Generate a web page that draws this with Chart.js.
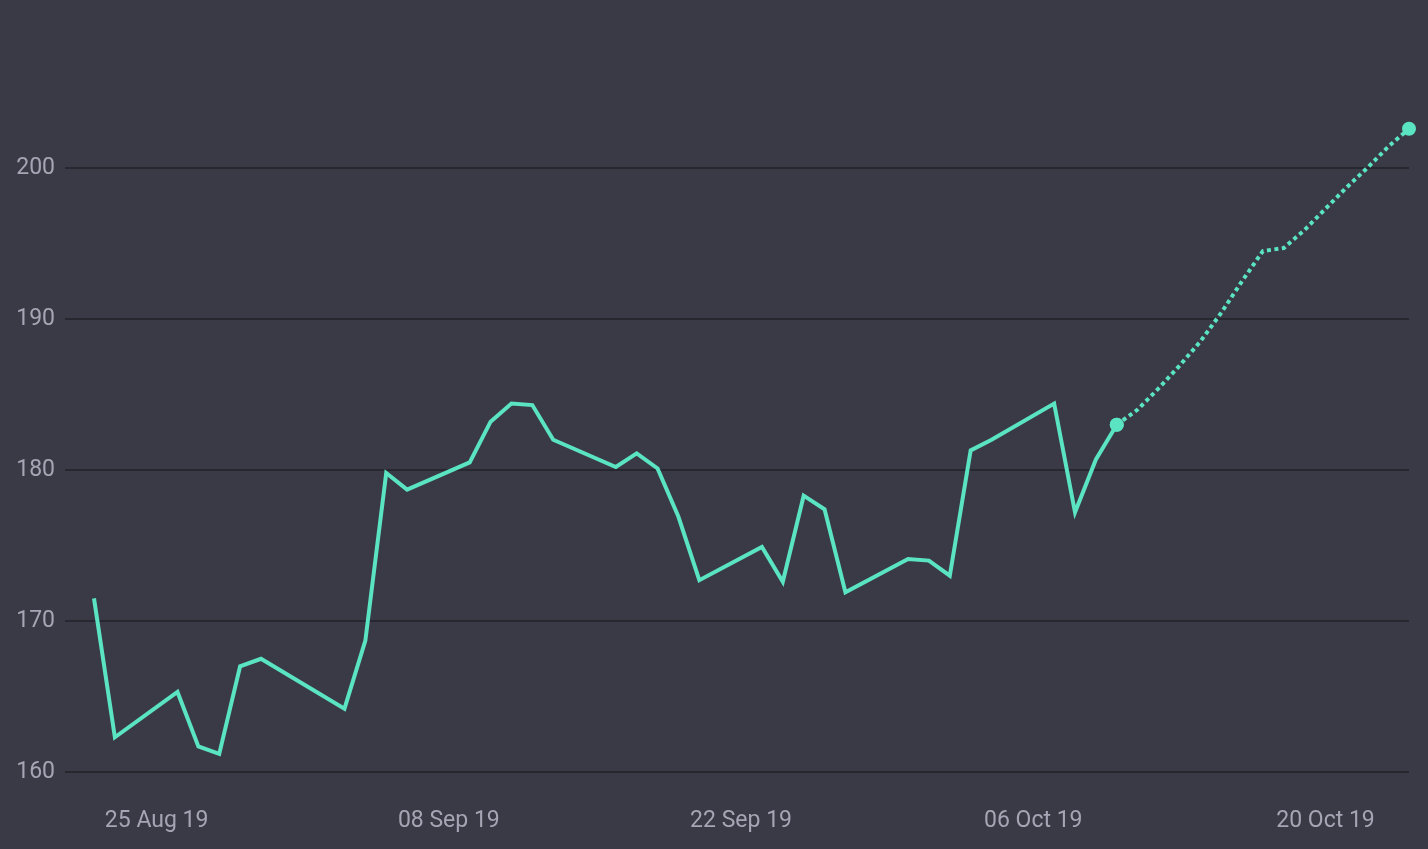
<!DOCTYPE html>
<html>
<head>
<meta charset="utf-8">
<script src="https://cdn.jsdelivr.net/npm/chart.js@4"></script>
<style>
  html, body { margin: 0; padding: 0; background: #3a3a46; overflow: hidden; }
  canvas { display: block; }
</style>
</head>
<body>
<canvas id="chart" width="1428" height="849"></canvas>
<script>
// trading days (actual) and daily forecast
const actualDates = ['2019-08-22', '2019-08-23', '2019-08-26', '2019-08-27', '2019-08-28', '2019-08-29', '2019-08-30',
  '2019-09-03', '2019-09-04', '2019-09-05', '2019-09-06', '2019-09-09', '2019-09-10', '2019-09-11', '2019-09-12', '2019-09-13',
  '2019-09-16', '2019-09-17', '2019-09-18', '2019-09-19', '2019-09-20', '2019-09-23', '2019-09-24', '2019-09-25', '2019-09-26',
  '2019-09-27', '2019-09-30', '2019-10-01', '2019-10-02', '2019-10-03', '2019-10-04', '2019-10-07', '2019-10-08', '2019-10-09',
  '2019-10-10']
const actualValues = [171.5, 162.3, 165.3, 161.7, 161.2, 167.0, 167.5,
  164.2, 168.7, 179.8, 178.7, 180.5, 183.2, 184.4, 184.3, 182.0,
  180.2, 181.1, 180.1, 176.9, 172.7, 174.9, 172.6, 178.3, 177.4,
  171.9, 174.1, 174.0, 173.0, 181.3, 182.0, 184.4, 177.2, 180.7,
  183.0]

const forecastDates = ['2019-10-10', '2019-10-11', '2019-10-12', '2019-10-13', '2019-10-14', '2019-10-15', '2019-10-16',
  '2019-10-17', '2019-10-18', '2019-10-19', '2019-10-20', '2019-10-21', '2019-10-22', '2019-10-23', '2019-10-24']
const forecastValues = [183.0, 184.0, 185.4, 186.9, 188.5, 190.4, 192.5,
  194.5, 194.7, 195.9, 197.3, 198.7, 200.0, 201.4, 202.6]

const xTickDates = ['2019-08-25', '2019-09-08', '2019-09-22', '2019-10-06', '2019-10-20']
const yTickValues = [160, 170, 180, 190, 200]

const months = ['Jan', 'Feb', 'Mar', 'Apr', 'May', 'Jun', 'Jul', 'Aug', 'Sep', 'Oct', 'Nov', 'Dec']
const DAY = 86400000
const start = Date.UTC(2019, 7, 22)

function toDay(s) {
  const p = s.split('-')
  return (Date.UTC(+p[0], +p[1] - 1, +p[2]) - start) / DAY
}

function fmt(day) {
  const d = new Date(start + day * DAY)
  let dd = d.getUTCDate()
  if (dd < 10) dd = '0' + dd
  return dd + ' ' + months[d.getUTCMonth()] + ' ' + String(d.getUTCFullYear()).slice(2)
}

const teal = '#5ae4c2'
const grid = '#27272f'
const text = '#a6a5b5'
const font = { family: 'Roboto, sans-serif', size: 23 }

const actual = actualDates.map((d, i) => ({ x: toDay(d), y: actualValues[i] }))
const forecast = forecastDates.map((d, i) => ({ x: toDay(d), y: forecastValues[i] }))

new Chart(document.getElementById('chart'), {
  type: 'line',
  data: {
    datasets: [{
      data: actual,
      borderColor: teal,
      backgroundColor: teal,
      borderWidth: 4,
      tension: 0,
      clip: false,
      pointRadius: (c) => c.dataIndex === actual.length - 1 ? 7 : 0,
      pointBorderWidth: 0
    }, {
      data: forecast,
      borderColor: teal,
      backgroundColor: teal,
      borderWidth: 4,
      borderDash: [4, 3.5],
      tension: 0,
      clip: false,
      pointRadius: (c) => c.dataIndex === forecast.length - 1 || c.dataIndex === 0 ? 7 : 0,
      pointBorderWidth: 0
    }]
  },
  options: {
    responsive: false,
    animation: false,
    layout: { padding: { top: 10, right: 19, left: 0, bottom: 0 } },
    plugins: { legend: { display: false }, tooltip: { enabled: false } },
    scales: {
      x: {
        type: 'linear',
        min: 0,
        max: 63,
        afterBuildTicks: (s) => { s.ticks = xTickDates.map(d => ({ value: toDay(d) })) },
        afterFit: (s) => { s.height = 59; s.paddingLeft = 0; s.paddingRight = 0 },
        grid: { display: false, drawTicks: false },
        border: { display: false },
        ticks: { color: text, font: font, padding: 17, maxRotation: 0, autoSkip: false, callback: (v) => fmt(v) }
      },
      y: {
        min: 158.81,
        max: 210.46,
        afterBuildTicks: (s) => { s.ticks = yTickValues.map(v => ({ value: v })) },
        afterFit: (s) => { s.width = 94; s.paddingTop = 0; s.paddingBottom = 0 },
        grid: { color: grid, lineWidth: 2, tickLength: 29, tickColor: grid },
        border: { display: false },
        ticks: { color: text, font: font, padding: 10 }
      }
    }
  }
})
</script>
</body>
</html>
